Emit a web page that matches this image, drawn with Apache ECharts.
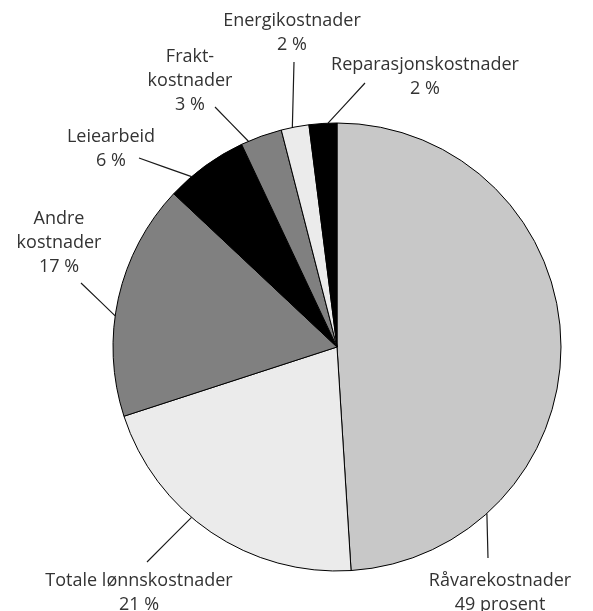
<!DOCTYPE html>
<html>
<head>
<meta charset="utf-8">
<script src="https://cdn.jsdelivr.net/npm/echarts@6/dist/echarts.min.js"></script>
<style>
  html, body { margin: 0; padding: 0; background: #fff; }
  #chart { width: 593px; height: 611px; }
</style>
</head>
<body>
<div id="chart"></div>
<script>
// kostnadsfordeling (prosent)
var categories = ['Råvarekostnader', 'Totale lønnskostnader', 'Andre\nkostnader', 'Leiearbeid', 'Frakt-\nkostnader', 'Energikostnader', 'Reparasjonskostnader']
var values = [49, 21, 17, 6, 3, 2, 2]
var units = ['prosent', '%', '%', '%', '%', '%', '%']

var colors = ['#c8c8c8', '#ebebeb', '#808080', '#000000', '#808080', '#ebebeb', '#000000']

// plassering av etiketter: midten av tekstblokken, ende av strek ved teksten,
// og vinkel (grader med klokka fra toppen) der streken treffer kaken
var labelPos = [[500, 593], [139, 593], [59, 243], [111, 149], [190, 81], [292, 33], [425, 77]]
var lineEnd = [[488, 558], [147, 562], [81, 283], [139, 158], [215, 107], [294, 62], [365, 83]]
var edgeAngle = [138, 220.5, 278, 319.5, 336.7, 348.5, 357.7]
var cx = 337, cy = 347, r = 224

var chart = echarts.init(document.getElementById('chart'))

chart.setOption({
  animation: false,
  series: [{
    type: 'pie',
    center: [cx, cy],
    radius: r,
    startAngle: 90,
    clockwise: true,
    silent: true,
    avoidLabelOverlap: false,
    itemStyle: {
      borderColor: '#000',
      borderWidth: 1
    },
    label: {
      show: true,
      position: 'outside',
      fontFamily: 'Open Sans',
      fontSize: 18,
      lineHeight: 24,
      color: '#333',
      align: 'center',
      formatter: function (p) {
        return p.name + '\n' + p.value + ' ' + units[p.dataIndex]
      }
    },
    labelLine: {
      show: true,
      length: 10,
      length2: 0,
      lineStyle: { color: '#1a1a1a', width: 1.2 }
    },
    labelLayout: function (p) {
      var i = p.dataIndex
      var a = edgeAngle[i] * Math.PI / 180
      var ex = cx + r * Math.sin(a)
      var ey = cy - r * Math.cos(a)
      var le = lineEnd[i]
      return {
        x: labelPos[i][0],
        y: labelPos[i][1],
        align: 'center',
        verticalAlign: 'middle',
        labelLinePoints: [le, [(le[0] + ex) / 2, (le[1] + ey) / 2], [ex, ey]]
      }
    },
    data: categories.map(function (c, i) {
      return { name: c, value: values[i], itemStyle: { color: colors[i] } }
    })
  }]
})
</script>
</body>
</html>
